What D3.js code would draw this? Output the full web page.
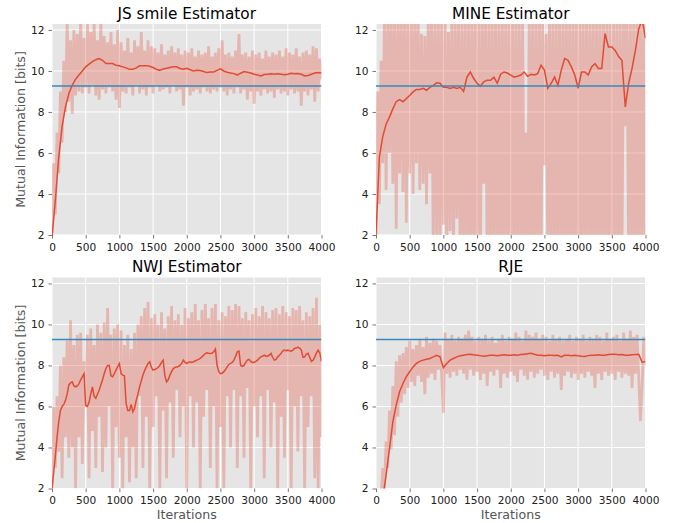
<!DOCTYPE html>
<html>
<head>
<meta charset="utf-8">
<script src="https://cdn.jsdelivr.net/npm/d3@7"></script>
<style>
  body { margin: 0; background: #fff; }
  svg { display: block; font-family: "DejaVu Sans", sans-serif; }
</style>
</head>
<body>
<svg id="chart" width="675" height="523"></svg>
<script>
const titles = ["JS smile Estimator", "MINE Estimator", "NWJ Estimator", "RJE"];
const iterTicks = [0, 500, 1000, 1500, 2000, 2500, 3000, 3500, 4000];
const miTicks = [2, 4, 6, 8, 10, 12];
const trueMI = 9.27;

// raw estimates, one value every 25 iterations
const jsRaw = [
  2.0, 5.5, 3.0, 7.0, 5.0, 9.0, 6.5, 10.5, 8.0, 12.4, 8.5, 11.5, 7.9, 12.0, 8.8, 11.8, 9.0, 12.4, 8.9, 11.6,
  9.2, 12.5, 8.9, 11.9, 9.3, 12.4, 8.8, 11.5, 8.6, 12.4, 9.1, 11.7, 8.9, 11.4, 9.2, 11.9, 9.0, 11.3, 8.6, 12.0,
  8.2, 11.4, 9.0, 11.0, 8.9, 11.6, 9.2, 10.9, 8.8, 11.5, 9.3, 11.2, 8.9, 11.9, 9.1, 11.0, 8.8, 11.5, 9.2, 11.2,
  8.9, 11.1, 9.3, 10.9, 9.0, 11.3, 9.1, 10.8, 9.2, 11.0, 8.9, 11.2, 9.3, 10.9, 9.0, 11.1, 9.1, 10.8, 8.3, 11.0,
  9.2, 10.9, 8.8, 11.1, 9.0, 10.7, 9.1, 11.0, 8.9, 10.8, 9.2, 10.9, 9.0, 11.2, 8.9, 10.7, 9.1, 10.9, 9.0, 11.1,
  9.2, 11.5, 9.0, 10.8, 8.8, 10.9, 9.1, 10.7, 8.9, 11.0, 9.2, 11.8, 8.9, 10.8, 9.1, 10.9, 8.6, 10.7, 9.0, 11.0,
  8.4, 10.8, 9.0, 10.9, 8.8, 10.6, 9.1, 11.0, 8.9, 10.7, 9.0, 10.9, 8.7, 10.8, 9.1, 11.0, 8.9, 10.7, 9.0, 11.1,
  8.8, 10.9, 9.1, 10.8, 8.9, 11.1, 9.0, 10.7, 8.3, 10.9, 9.0, 11.0, 8.8, 10.8, 9.1, 11.2, 8.5, 11.1, 9.0, 10.6,
  9.6
];
const mineRaw = [
  2.0, 9.0, 3.5, 10.5, 5.5, 12.5, 4.2, 13, 6.0, 13, 4.5, 13, 2.3, 13, 5.0, 13, 4.1, 13, 2.6, 13,
  5.0, 13, 4.0, 12.8, 5.5, 13, 4.2, 11.8, 4.5, 11.7, 3.5, 13, 5.0, 13, 1.0, 13, 2.0, 13, 0.5, 13,
  2.5, 13, 0.5, 11.9, 2.2, 13, 0.5, 13, 2.8, 13, 0.5, 13, 1.0, 13, 0.5, 13, 0.5, 13, 0.5, 13,
  0.5, 13, 0.5, 13, 4.5, 13, 0.5, 13, 0.5, 13, 0.5, 13, 0.5, 13, 0.5, 13, 0.5, 13, 0.5, 13,
  0.5, 13, 0.5, 13, 0.5, 13, 0.5, 13, 0.5, 7.0, 0.5, 13, 0.5, 13, 0.5, 13, 0.5, 13, 0.5, 13,
  5.4, 11.8, 0.5, 13, 0.5, 13, 0.5, 13, 0.5, 13, 0.5, 13, 0.5, 13, 0.5, 13, 0.5, 13, 0.5, 13,
  0.5, 13, 0.5, 13, 0.5, 13, 0.5, 13, 0.5, 13, 0.5, 13, 0.5, 13, 0.5, 13, 0.5, 13, 0.5, 13,
  0.5, 13, 0.5, 13, 0.5, 13, 0.5, 13, 7.3, 13, 0.5, 13, 0.5, 13, 0.5, 13, 0.5, 13, 0.5, 13,
  0.5
];
const nwjRaw = [
  2.0, 6.0, 3.0, 6.5, 3.8, 8.0, 2.5, 8.4, 4.5, 9.2, 3.5, 10.2, 4.0, 9.0, 2.0, 9.5, 4.5, 9.6, 3.2, 8.2,
  6.0, 9.5, 2.5, 9.8, 4.8, 9.0, 3.0, 10.0, 5.5, 9.6, 2.8, 10.1, 4.0, 10.8, 6.0, 9.5, 2.0, 9.8, 5.0, 10.0,
  3.5, 9.7, 2.0, 9.0, 4.5, 9.5, 2.3, 8.8, 4.0, 9.6, 2.5, 10.0, 6.5, 10.4, 3.0, 10.8, 5.5, 11.1, 2.0, 10.3,
  5.0, 10.5, 6.5, 10.0, 2.0, 10.6, 5.8, 9.8, 2.5, 10.4, 6.2, 10.9, 3.5, 10.2, 6.8, 10.5, 4.5, 10.0, 6.0, 10.8,
  2.0, 10.3, 6.5, 10.6, 4.0, 11.0, 6.2, 10.2, 2.0, 10.7, 5.5, 11.0, 6.8, 10.3, 3.0, 10.8, 6.0, 11.0, 2.0, 10.2,
  5.0, 10.6, 2.0, 10.4, 6.5, 10.9, 4.0, 10.7, 6.8, 11.0, 3.0, 10.9, 6.5, 10.3, 3.5, 10.6, 6.9, 10.2, 2.0, 10.5,
  6.0, 10.8, 4.5, 10.4, 6.5, 10.9, 2.5, 10.6, 6.8, 10.3, 4.0, 10.7, 6.2, 10.8, 2.0, 10.5, 5.5, 10.9, 3.5, 10.6,
  6.8, 10.4, 2.0, 10.8, 6.0, 10.7, 3.8, 10.9, 6.5, 10.2, 2.0, 10.6, 5.0, 10.4, 6.5, 10.8, 2.5, 11.3, 2.0, 10.0,
  4.5
];
const rjeRaw = [
  1.0, 0.8, 1.9, 1.4, 3.0, 2.0, 4.3, 3.0, 5.8, 3.9, 7.0, 4.6, 8.2, 5.5, 8.5, 6.2, 8.6, 6.6, 8.9, 6.9,
  9.2, 7.2, 8.8, 7.0, 9.0, 7.5, 9.3, 7.2, 8.9, 6.6, 9.4, 7.4, 9.1, 7.6, 9.3, 7.3, 9.2, 7.8, 9.0, 7.5,
  5.7, 9.6, 7.6, 9.3, 7.4, 9.5, 7.7, 9.2, 7.5, 9.4, 7.8, 9.3, 7.6, 9.5, 7.3, 9.7, 7.8, 9.4, 7.5, 9.2,
  7.7, 9.4, 7.3, 9.3, 7.6, 9.5, 7.0, 9.2, 7.7, 9.4, 7.5, 9.1, 7.8, 9.3, 6.9, 9.5, 7.6, 9.2, 7.4, 9.4,
  7.7, 9.3, 7.5, 9.6, 7.2, 9.4, 7.8, 9.2, 7.5, 9.7, 7.3, 9.5, 7.7, 9.4, 7.4, 9.6, 7.6, 9.3, 7.8, 9.5,
  7.5, 9.4, 7.3, 9.2, 7.7, 9.5, 7.4, 9.3, 7.6, 9.4, 6.8, 9.2, 7.5, 9.3, 7.7, 9.5, 7.4, 9.2, 7.6, 9.4,
  7.3, 9.3, 7.6, 9.5, 7.4, 9.2, 7.7, 9.4, 7.5, 9.3, 6.9, 9.5, 7.6, 9.4, 7.3, 9.2, 7.7, 9.6, 7.5, 9.3,
  7.6, 9.4, 7.3, 9.5, 7.7, 9.2, 7.4, 9.6, 7.6, 9.3, 7.5, 9.7, 6.9, 9.4, 7.6, 9.5, 7.4, 5.3, 7.0, 9.4,
  8.0
];

// smoothed estimates (JS, MINE, RJE every 50 iterations; NWJ every 25)
const jsSmooth = [
  1.9, 3.7, 5.8, 7.3, 8.25, 8.9, 9.3, 9.6, 9.8, 10.0,
  10.2, 10.33, 10.45, 10.55, 10.6, 10.52, 10.36, 10.36, 10.36, 10.28,
  10.25, 10.2, 10.15, 10.08, 10.08, 10.15, 10.25, 10.26, 10.26, 10.23,
  10.17, 10.08, 10.03, 10.1, 10.13, 10.17, 10.2, 10.2, 10.12, 10.08,
  10.13, 10.06, 10.0, 10.03, 10.02, 9.97, 9.92, 9.95, 9.95, 10.03,
  10.1, 10.0, 9.94, 9.9, 9.87, 9.8, 9.89, 9.97, 9.94, 9.9,
  9.84, 9.8, 9.76, 9.83, 9.84, 9.86, 9.84, 9.86, 9.84, 9.81,
  9.84, 9.89, 9.86, 9.87, 9.84, 9.76, 9.78, 9.84, 9.9, 9.92,
  9.9
];
const mineSmooth = [
  2.0, 5.8, 6.8, 7.4, 7.75, 8.15, 8.5, 8.6, 8.5, 8.65,
  8.8, 8.98, 9.1, 9.1, 9.15, 9.06, 9.2, 9.3, 9.42, 9.4,
  9.2, 9.2, 9.15, 9.2, 9.15, 9.2, 9.0, 9.7, 9.95, 9.63,
  9.4, 9.26, 9.47, 9.55, 9.55, 9.7, 9.4, 9.84, 9.95, 9.9,
  9.8, 9.7, 9.74, 9.8, 9.95, 9.74, 9.84, 9.8, 9.87, 10.28,
  10.04, 9.15, 9.4, 9.7, 9.3, 10.04, 10.6, 10.52, 10.2, 9.8,
  9.15, 9.95, 9.95, 9.8, 10.2, 10.36, 10.12, 10.12, 11.82, 11.17,
  11.17, 11.0, 10.7, 10.52, 8.25, 9.4, 10.12, 11.0, 12.06, 12.5,
  11.6
];
const nwjSmooth = [
  2.0, 2.8, 3.6, 4.5, 5.25, 5.8, 6.0, 6.1, 6.3, 6.6, 7.05, 7.15, 7.2, 7.0, 6.96, 7.0, 7.1, 7.3, 7.45, 7.6,
  6.05, 6.0, 6.2, 6.6, 6.96, 6.5, 6.4, 6.6, 6.8, 7.05, 7.3, 7.6, 7.85, 8.0, 8.0, 7.5, 7.45, 7.6, 7.77, 7.95,
  8.1, 7.6, 7.53, 7.5, 6.15, 5.8, 5.8, 6.1, 5.74, 5.9, 6.3, 6.6, 6.96, 7.25, 7.53, 7.75, 7.93, 8.1, 8.18, 7.9,
  7.77, 7.8, 7.85, 7.9, 8.0, 8.15, 8.26, 7.5, 7.2, 7.3, 7.53, 7.7, 7.85, 7.9, 7.93, 7.95, 8.0, 8.1, 8.26, 8.15,
  8.1, 8.15, 8.18, 8.15, 8.18, 8.22, 8.26, 8.3, 8.34, 8.42, 8.5, 8.58, 8.62, 8.6, 8.59, 8.6, 8.67, 8.8, 8.0, 7.7,
  7.6, 7.62, 7.7, 7.8, 7.93, 8.05, 8.1, 8.15, 8.26, 8.45, 8.67, 8.7, 8.0, 7.95, 8.0, 8.15, 8.26, 8.3, 8.2, 8.15,
  8.15, 8.2, 8.26, 8.35, 8.42, 8.45, 8.5, 8.45, 8.45, 8.5, 8.59, 8.4, 8.26, 8.3, 8.42, 8.5, 8.59, 8.7, 8.75, 8.72,
  8.75, 8.72, 8.7, 8.75, 8.83, 8.85, 8.9, 8.85, 8.75, 8.4, 8.42, 8.55, 8.59, 8.4, 8.2, 8.25, 8.42, 8.6, 8.75, 8.6,
  8.2
];
const rjeSmooth = [
  0.2, 0.7, 1.5, 2.65, 3.95, 5.25, 6.07, 6.72, 7.12, 7.45,
  7.7, 7.93, 8.1, 8.2, 8.26, 8.3, 8.34, 8.42, 8.5, 8.42,
  7.89, 8.1, 8.26, 8.34, 8.42, 8.47, 8.5, 8.53, 8.55, 8.52,
  8.5, 8.48, 8.45, 8.47, 8.5, 8.5, 8.48, 8.5, 8.52, 8.5,
  8.5, 8.52, 8.5, 8.53, 8.55, 8.57, 8.59, 8.55, 8.5, 8.5,
  8.48, 8.5, 8.5, 8.49, 8.5, 8.42, 8.5, 8.5, 8.48, 8.5,
  8.47, 8.45, 8.44, 8.48, 8.5, 8.5, 8.52, 8.5, 8.5, 8.53,
  8.55, 8.55, 8.52, 8.53, 8.5, 8.5, 8.52, 8.53, 8.55, 8.15,
  8.2
];

const svg = d3.select("#chart");
const pw = 269.5, ph = 211;
const red = "#E24A33", blue = "#348ABD";

const panels = [
  { title: titles[0], raw: jsRaw, smooth: jsSmooth, left: 52, top: 24, ylab: true, xlab: false },
  { title: titles[1], raw: mineRaw, smooth: mineSmooth, left: 376, top: 24, ylab: false, xlab: false },
  { title: titles[2], raw: nwjRaw, smooth: nwjSmooth, left: 52, top: 277.5, ylab: true, xlab: true },
  { title: titles[3], raw: rjeRaw, smooth: rjeSmooth, left: 376, top: 277.5, ylab: false, xlab: true }
];

const x = d3.scaleLinear().domain([0, 4000]).range([0, pw]);
const y = d3.scaleLinear().domain([2, 12.29]).range([ph, 0]);

// turn a value array into [iteration, value] pairs
function toPoints(arr) {
  const step = 4000 / (arr.length - 1);
  return arr.map((v, i) => [i * step, v]);
}

const line = d3.line()
  .x(d => x(d[0]))
  .y(d => y(d[1]));

panels.forEach((p, k) => {
  const g = svg.append("g").attr("transform", `translate(${p.left},${p.top})`);

  g.append("clipPath").attr("id", "clip" + k)
    .append("rect").attr("width", pw).attr("height", ph);

  g.append("rect")
    .attr("width", pw).attr("height", ph)
    .attr("fill", "#E5E5E5");

  // grid
  g.selectAll(".vgrid").data(iterTicks).enter().append("line")
    .attr("x1", d => x(d)).attr("x2", d => x(d))
    .attr("y1", 0).attr("y2", ph)
    .attr("stroke", "#fff").attr("stroke-width", 1);
  g.selectAll(".hgrid").data(miTicks).enter().append("line")
    .attr("x1", 0).attr("x2", pw)
    .attr("y1", d => y(d)).attr("y2", d => y(d))
    .attr("stroke", "#fff").attr("stroke-width", 1);

  const plot = g.append("g").attr("clip-path", `url(#clip${k})`);

  // raw estimates: one path, so the translucent stroke does not stack
  plot.append("path")
    .datum(toPoints(p.raw))
    .attr("d", line)
    .attr("fill", "none")
    .attr("stroke", red)
    .attr("stroke-width", 2.8)
    .attr("stroke-linejoin", "bevel")
    .attr("stroke-opacity", 0.3);

  plot.append("path")
    .datum(toPoints(p.smooth))
    .attr("d", line)
    .attr("fill", "none")
    .attr("stroke", red)
    .attr("stroke-width", 1.5);

  plot.append("line")
    .attr("x1", 0).attr("x2", pw)
    .attr("y1", y(trueMI)).attr("y2", y(trueMI))
    .attr("stroke", blue)
    .attr("stroke-width", 1.5);

  // axes
  const xAxis = g.append("g")
    .attr("transform", `translate(0,${ph})`)
    .call(d3.axisBottom(x).tickValues(iterTicks).tickFormat(d3.format("d"))
      .tickSize(3.5).tickPadding(4.5));
  const yAxis = g.append("g")
    .call(d3.axisLeft(y).tickValues(miTicks).tickFormat(d3.format("d"))
      .tickSize(3.5).tickPadding(4));

  [xAxis, yAxis].forEach(a => {
    a.select(".domain").remove();
    a.selectAll(".tick line").attr("stroke", "#555").attr("stroke-width", 0.8);
    a.selectAll(".tick text")
      .attr("fill", "#222")
      .style("font-size", "10.6px")
      .style("font-family", "DejaVu Sans, sans-serif");
  });

  g.append("text")
    .attr("x", pw / 2).attr("y", -5.5)
    .attr("text-anchor", "middle")
    .style("font-size", "15.3px")
    .attr("fill", "#000")
    .text(p.title);

  if (p.ylab) {
    g.append("text")
      .attr("transform", `translate(${-27},${ph / 2}) rotate(-90)`)
      .attr("text-anchor", "middle")
      .style("font-size", "12.6px")
      .attr("fill", "#555")
      .text("Mutual Information [bits]");
  }
  if (p.xlab) {
    g.append("text")
      .attr("x", pw / 2).attr("y", ph + 30)
      .attr("text-anchor", "middle")
      .style("font-size", "12.6px")
      .attr("fill", "#555")
      .text("Iterations");
  }
});
</script>
</body>
</html>
